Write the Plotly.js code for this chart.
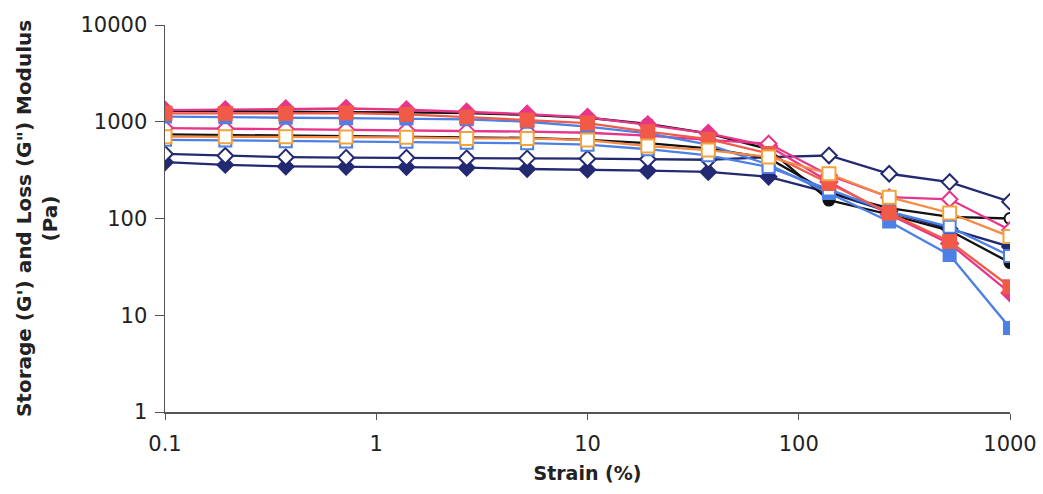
<!DOCTYPE html>
<html>
<head>
<meta charset="utf-8">
<script src="https://cdn.plot.ly/plotly-3.0.1.min.js"></script>
<style>
  html, body { margin: 0; padding: 0; background: #ffffff; }
  #chart { width: 1043px; height: 494px; }
</style>
</head>
<body>
<div id="chart"></div>
<script>
// Strain (%) values
const strain = [0.1, 0.193, 0.373, 0.72, 1.39, 2.68, 5.18, 10, 19.3, 37.3, 72, 139, 268, 518, 1000];

// Modulus series (Pa)
const navyFilled  = [382, 358, 345, 342, 340, 335, 325, 320, 312, 303, 270, 185, 118, 78, 51];
const navyOpen    = [465, 445, 430, 425, 425, 420, 418, 415, 410, 405, 430, 448, 290, 238, 149];
const blackFilled = [1300, 1280, 1270, 1260, 1250, 1230, 1180, 1100, 950, 760, 520, 155, 110, 75, 35];
const blackOpen   = [740, 730, 720, 710, 700, 700, 680, 650, 600, 530, 420, 185, 128, 104, 100];
const pinkFilled  = [1320, 1330, 1360, 1370, 1330, 1260, 1200, 1110, 930, 760, 560, 240, 110, 55, 17];
const pinkOpen    = [860, 850, 840, 830, 820, 800, 790, 770, 720, 650, 595, 280, 166, 158, 76];
const blueFilled  = [1130, 1110, 1100, 1090, 1080, 1060, 1000, 890, 760, 580, 360, 183, 93, 42, 7.4];
const blueOpen    = [650, 640, 630, 625, 620, 605, 600, 580, 520, 450, 340, 200, 118, 82, 41];
const redFilled   = [1223, 1215, 1220, 1230, 1190, 1117, 1040, 970, 790, 660, 470, 230, 114, 58, 19.7];
const orangeOpen  = [701, 700, 700, 695, 690, 673, 673, 647, 560, 510, 433, 290, 166, 114, 65];

const xTicks = [0.1, 1, 10, 100, 1000];
const xTickText = ['0.1', '1', '10', '100', '1000'];
const yTicks = [1, 10, 100, 1000, 10000];
const yTickText = ['1', '10', '100', '1000', '10000'];

function series(y, lineColor, symbol, fill, edge, size) {
  return {
    x: strain, y: y, type: 'scatter', mode: 'lines+markers',
    line: { color: lineColor, width: 2.3 },
    marker: { symbol: symbol, size: size, color: fill, line: { color: edge, width: 2 } },
    hoverinfo: 'x+y', showlegend: false
  };
}

const NAVY = '#232a72', BLACK = '#111111', PINK = '#e8358a', BLUE = '#4d80e4', RED = '#f25a48', ORANGE = '#f2a43c';

const data = [
  series(navyFilled, NAVY, 'diamond', NAVY, NAVY, 12),
  series(navyOpen, NAVY, 'diamond', '#ffffff', NAVY, 12),
  series(blackFilled, BLACK, 'circle', BLACK, BLACK, 11),
  series(blackOpen, BLACK, 'circle', '#ffffff', BLACK, 11),
  series(pinkFilled, PINK, 'diamond', PINK, PINK, 13),
  series(pinkOpen, PINK, 'diamond', '#ffffff', PINK, 12),
  series(blueFilled, BLUE, 'square', BLUE, BLUE, 12),
  series(blueOpen, BLUE, 'square', '#ffffff', BLUE, 12),
  series(redFilled, RED, 'square', RED, RED, 13),
  series(orangeOpen, '#f58a45', 'square', '#ffffff', ORANGE, 13)
];

const layout = {
  width: 1043, height: 494,
  margin: { l: 165, r: 33, t: 25, b: 82 },
  paper_bgcolor: '#ffffff', plot_bgcolor: '#ffffff',
  font: { family: 'DejaVu Sans, Liberation Sans, Arial, sans-serif', color: '#222222' },
  xaxis: {
    type: 'log', range: [-1, 3],
    tickvals: xTicks, ticktext: xTickText,
    ticks: 'outside', ticklen: 6, tickcolor: '#555555', tickwidth: 1,
    showline: true, linecolor: '#555555', linewidth: 1.5,
    showgrid: false, zeroline: false,
    tickfont: { size: 21, color: '#222222' },
    ticklabelstandoff: 6,
    title: { text: '<b>Strain (%)</b>', font: { size: 19, color: '#222222' }, standoff: 12 }
  },
  yaxis: {
    type: 'log', range: [0, 4],
    tickvals: yTicks, ticktext: yTickText,
    ticks: 'outside', ticklen: 9, tickcolor: '#555555', tickwidth: 1,
    showline: true, linecolor: '#555555', linewidth: 1.5,
    showgrid: false, zeroline: false,
    tickfont: { size: 21, color: '#222222' },
    ticklabelstandoff: 3
  },
  annotations: [{
    xref: 'paper', yref: 'paper', x: -0.152, y: 0.5,
    xanchor: 'center', yanchor: 'middle', textangle: -90,
    showarrow: false,
    text: '<b>Storage (G\') and Loss (G") Modulus<br>(Pa)</b>',
    font: { size: 20, color: '#222222' }
  }]
};

Plotly.newPlot('chart', data, layout, { displayModeBar: false, staticPlot: true });
</script>
</body>
</html>
